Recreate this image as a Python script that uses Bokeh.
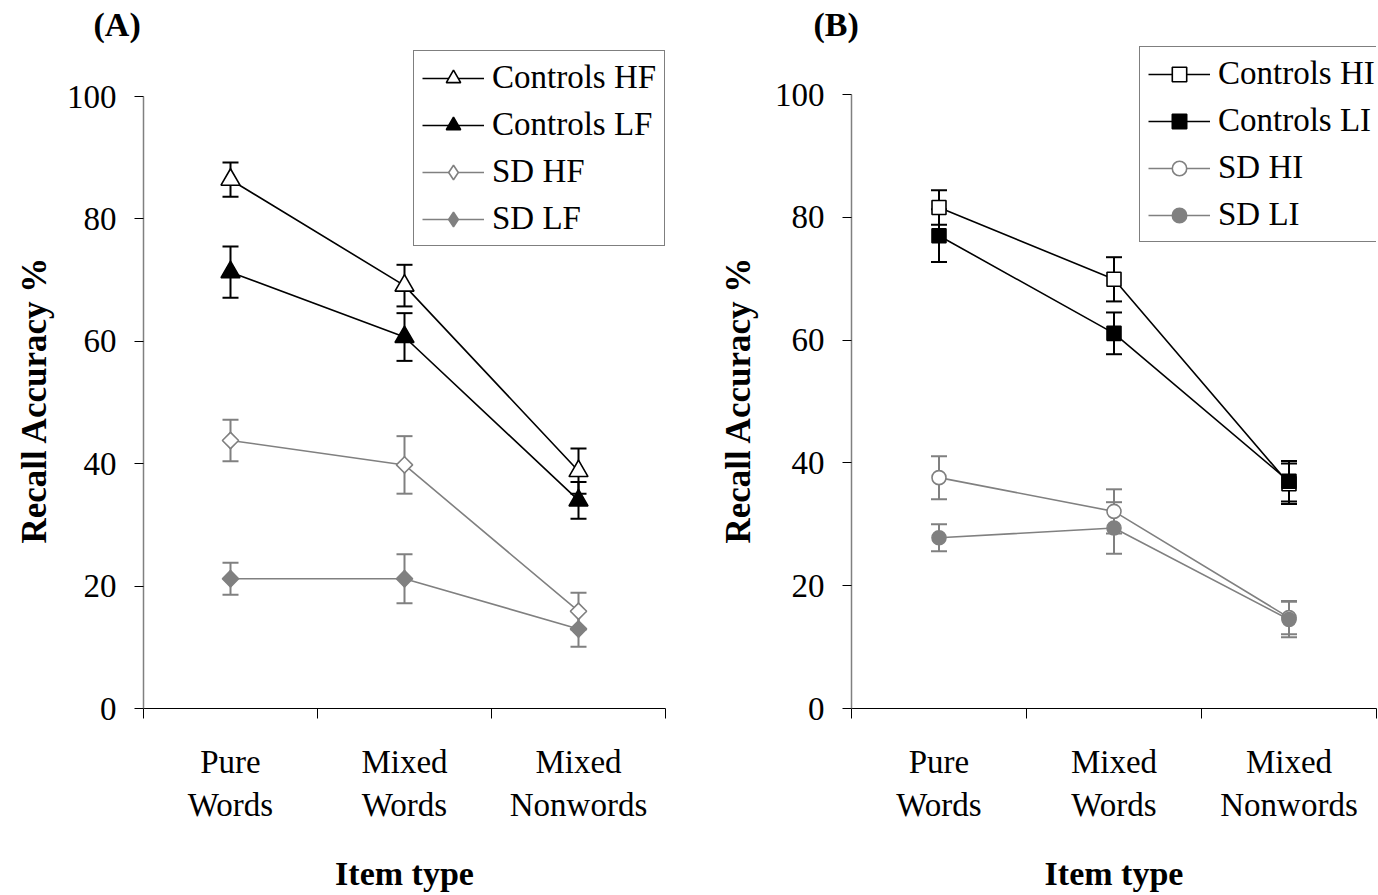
from bokeh.plotting import figure
from bokeh.layouts import row
from bokeh.models import (Range1d, FixedTicker, Whisker, TeeHead, ColumnDataSource,
                          Legend, LegendItem, Title)
from bokeh.embed import file_html
from bokeh.resources import INLINE

# ---------------- data ----------------
categories = ["Pure\nWords", "Mixed\nWords", "Mixed\nNonwords"]
y_ticks = [0, 20, 40, 60, 80, 100]

# Panel A (frequency)
a_ctrl_hf = [86.4, 69.1, 38.8]
a_ctrl_hf_err = [2.8, 3.4, 3.7]
a_ctrl_lf = [71.3, 60.7, 34.0]
a_ctrl_lf_err = [4.2, 3.9, 3.0]
a_sd_hf = [43.8, 39.8, 15.9]
a_sd_hf_err = [3.4, 4.7, 3.0]
a_sd_lf = [21.2, 21.2, 13.0]
a_sd_lf_err = [2.6, 4.0, 2.9]

# Panel B (imageability)
b_ctrl_hi = [81.6, 69.9, 36.6]
b_ctrl_hi_err = [2.8, 3.6, 3.3]
b_ctrl_li = [77.0, 61.1, 37.0]
b_ctrl_li_err = [4.3, 3.4, 3.3]
b_sd_hi = [37.6, 32.1, 14.8]
b_sd_hi_err = [3.5, 3.6, 2.7]
b_sd_li = [27.8, 29.4, 14.5]
b_sd_li_err = [2.2, 4.2, 2.9]

FONT = "Liberation Serif"
BLACK = "#000000"
GRAY = "#808080"
TOP = 45
BOTTOM = 187
HEIGHT = 895
FRAME_BOTTOM = 708


def make_panel(tag, tag_offset, series, width, left, right, y_max, legend_loc, ylab_standoff):
    p = figure(width=width, height=HEIGHT, x_range=Range1d(0, 3),
               y_range=Range1d(0, y_max),
               output_backend="svg", toolbar_location=None,
               min_border_left=left, min_border_right=right, min_border_top=TOP,
               min_border_bottom=BOTTOM)
    p.xgrid.visible = False
    p.ygrid.visible = False
    p.outline_line_color = None
    p.background_fill_color = "white"
    p.border_fill_color = "white"

    p.title.text = tag
    p.title.align = "left"
    p.title.offset = tag_offset
    p.title.standoff = 5
    p.title.text_font = FONT
    p.title.text_font_size = "34px"
    p.title.text_font_style = "bold"
    p.title.text_color = BLACK

    xs = [i + 0.5 for i in range(len(categories))]
    bounds = [float(i) for i in range(len(categories) + 1)]

    # x axis
    xa = p.xaxis[0]
    xa.ticker = FixedTicker(ticks=xs, minor_ticks=bounds)
    xa.major_label_overrides = {x: c for x, c in zip(xs, categories)}
    xa.major_tick_out = 0
    xa.major_tick_in = 0
    xa.minor_tick_out = 10
    xa.minor_tick_in = 0
    xa.minor_tick_line_color = BLACK
    xa.minor_tick_line_width = 1
    xa.axis_line_color = BLACK
    xa.axis_line_width = 1
    xa.major_label_text_font = FONT
    xa.major_label_text_font_size = "33px"
    xa.major_label_text_color = BLACK
    xa.major_label_standoff = 25
    xa.axis_label = "Item type"
    xa.axis_label_text_font = FONT
    xa.axis_label_text_font_size = "34px"
    xa.axis_label_text_font_style = "bold"
    xa.axis_label_text_color = BLACK
    xa.axis_label_standoff = 29

    # y axis
    ya = p.yaxis[0]
    ya.ticker = FixedTicker(ticks=y_ticks)
    ya.bounds = (0, 100)
    ya.major_tick_out = 9
    ya.major_tick_in = 0
    ya.major_tick_line_color = BLACK
    ya.minor_tick_line_color = None
    ya.axis_line_color = GRAY
    ya.axis_line_width = 1.5
    ya.major_label_text_font = FONT
    ya.major_label_text_font_size = "33px"
    ya.major_label_text_color = BLACK
    ya.major_label_standoff = 18

    # y axis title, starting near y = 0 and reading upwards
    ylab = Title(text="Recall Accuracy %", align="left", offset=FRAME_BOTTOM - 543,
                 standoff=ylab_standoff, text_font=FONT, text_font_size="35px",
                 text_font_style="bold", text_color=BLACK)
    p.add_layout(ylab, "left")

    items = []
    for name, vals, errs, color, marker, fill, size, angle, leg_marker in series:
        src = ColumnDataSource(dict(x=xs,
                                    upper=[v + e for v, e in zip(vals, errs)],
                                    lower=[v - e for v, e in zip(vals, errs)]))
        w = Whisker(source=src, base="x", upper="upper", lower="lower",
                    line_color=color, line_width=2,
                    upper_head=TeeHead(size=16, line_color=color, line_width=2),
                    lower_head=TeeHead(size=16, line_color=color, line_width=2))
        p.add_layout(w)
        lr = p.line(xs, vals, line_color=color, line_width=1.6)
        if leg_marker is not None:
            # legend proxy drawn underneath the real (rotated) marker
            proxy = p.scatter(xs, vals, marker=leg_marker, size=size * 1.4,
                              fill_color=fill, line_color=color, line_width=1.6)
        sr = p.scatter(xs, vals, marker=marker, size=size, fill_color=fill,
                       line_color=color, line_width=1.6, angle=angle)
        if leg_marker is None:
            items.append(LegendItem(label=name, renderers=[lr, sr]))
        else:
            items.append(LegendItem(label=name, renderers=[lr, proxy]))

    leg = Legend(items=items, location=legend_loc,
                 label_text_font=FONT, label_text_font_size="33px",
                 label_text_color=BLACK,
                 border_line_color=BLACK, border_line_width=1.2,
                 background_fill_color="white", background_fill_alpha=1.0,
                 padding=8, spacing=10, margin=0,
                 glyph_width=62, glyph_height=36, label_height=36,
                 label_standoff=8)
    p.add_layout(leg)
    return p


DIAMOND_ANGLE = 0.7853981634  # rotated square
series_a = [
    ("Controls HF", a_ctrl_hf, a_ctrl_hf_err, BLACK, "triangle", "white", 19, 0.0, None),
    ("Controls LF", a_ctrl_lf, a_ctrl_lf_err, BLACK, "triangle", BLACK, 19, 0.0, None),
    ("SD HF", a_sd_hf, a_sd_hf_err, GRAY, "square", "white", 11.5, DIAMOND_ANGLE, "diamond"),
    ("SD LF", a_sd_lf, a_sd_lf_err, GRAY, "square", GRAY, 11.5, DIAMOND_ANGLE, "diamond"),
]
series_b = [
    ("Controls HI", b_ctrl_hi, b_ctrl_hi_err, BLACK, "square", "white", 14, 0.0, None),
    ("Controls LI", b_ctrl_li, b_ctrl_li_err, BLACK, "square", BLACK, 14, 0.0, None),
    ("SD HI", b_sd_hi, b_sd_hi_err, GRAY, "circle", "white", 14, 0.0, None),
    ("SD LI", b_sd_li, b_sd_li_err, GRAY, "circle", GRAY, 14, 0.0, None),
]

# frame: A 0->y708, 100->y96 ; B 0->y708, 100->y94
pa = make_panel("(A)", -50, series_a, 700, 143, 35,
                100 * (FRAME_BOTTOM - TOP) / (FRAME_BOTTOM - 96), (270, 462), 20)
pb = make_panel("(B)", -38, series_b, 678, 151, 2,
                100 * (FRAME_BOTTOM - TOP) / (FRAME_BOTTOM - 94), (288, 466), 28)

layout = row(pa, pb)
open("out.html", "w").write(file_html(layout, INLINE))
